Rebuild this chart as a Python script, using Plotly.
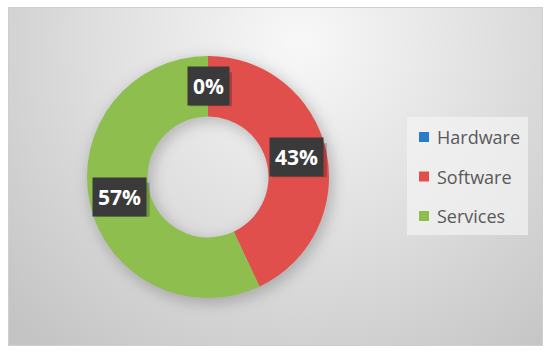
import base64, math
import plotly.graph_objects as go

categories = ["Hardware", "Software", "Services"]
values = [0, 43, 57]
colors = ["#2B7BC8", "#E04F4C", "#8DBE4E"]

W, H = 550, 356
# pie domain (paper)
dom_x = [0.1582, 0.5982]
dom_y = [0.1629, 0.8427]
hole = 0.5

svg = f'''<svg xmlns="http://www.w3.org/2000/svg" width="{W}" height="{H}" viewBox="0 0 {W} {H}">
<defs>
<radialGradient id="g" cx="300" cy="40" r="400" gradientUnits="userSpaceOnUse">
<stop offset="0" stop-color="#F8F8F8"/>
<stop offset="0.5" stop-color="#DFDFDF"/>
<stop offset="1" stop-color="#C4C4C4"/>
</radialGradient>
<filter id="b" x="-50%" y="-50%" width="200%" height="200%"><feGaussianBlur stdDeviation="7"/></filter>
</defs>
<rect width="{W}" height="{H}" fill="#FFFFFF"/>
<rect x="8.5" y="7.5" width="534" height="338" fill="url(#g)" stroke="#CFCFCF"/>
<circle cx="211" cy="181" r="91" fill="none" stroke="#000" stroke-opacity="0.2" stroke-width="64" filter="url(#b)"/>
</svg>'''
src = "data:image/svg+xml;base64," + base64.b64encode(svg.encode()).decode()

fig = go.Figure()
fig.add_trace(go.Pie(
    labels=categories, values=values, hole=hole, sort=False,
    direction="clockwise", rotation=0, textinfo="none",
    marker=dict(colors=colors, line=dict(width=0)),
    domain=dict(x=dom_x, y=dom_y), showlegend=False, hoverinfo="label+percent",
))

shapes = []
annotations = []

# data labels computed from values
total = sum(values)
cx_px = (dom_x[0] + dom_x[1]) / 2 * W
cy_px = (1 - (dom_y[0] + dom_y[1]) / 2) * H
r_out = min((dom_x[1] - dom_x[0]) * W, (dom_y[1] - dom_y[0]) * H) / 2
r_mid = r_out * (1 + hole) / 2
cum = 0
for v in values:
    frac = v / total
    mid = (cum + frac / 2) * 2 * math.pi
    cum += frac
    px = cx_px + r_mid * math.sin(mid)
    py = cy_px - r_mid * math.cos(mid)
    label = f"{round(frac * 100)}%"
    bw = 12.5 * len(label) + 17
    bh = 34
    xp, yp = px / W, 1 - py / H
    shapes.append(dict(type="rect", xref="paper", yref="paper", xsizemode="pixel", ysizemode="pixel",
                       xanchor=xp, yanchor=yp, x0=-bw / 2 + 3, x1=bw / 2 + 3, y0=-bh / 2 - 3, y1=bh / 2 - 3,
                       fillcolor="rgba(0,0,0,0.22)", line=dict(width=0), layer="above"))
    annotations.append(dict(x=xp, y=yp, xref="paper", yref="paper", showarrow=False,
                            text=f"<b>{label}</b>", borderpad=5, xanchor="center", yanchor="middle",
                            font=dict(family="Open Sans", size=21, color="#FFFFFF"), bgcolor="#3A3A3A"))

# legend (background box, square keys, labels)
lg_x0, lg_x1, lg_y0, lg_y1 = 407, 528, 117, 235
shapes.append(dict(type="rect", xref="paper", yref="paper",
                   x0=lg_x0 / W, x1=lg_x1 / W, y0=1 - lg_y1 / H, y1=1 - lg_y0 / H,
                   fillcolor="rgba(244,244,244,0.7)", line=dict(width=0), layer="above"))
for i, (c, col) in enumerate(zip(categories, colors)):
    yc = 137 + i * 39.5
    shapes.append(dict(type="rect", xref="paper", yref="paper",
                       x0=419 / W, x1=429 / W, y0=1 - (yc + 5) / H, y1=1 - (yc - 5) / H,
                       fillcolor=col, line=dict(width=0), layer="above"))
    annotations.append(dict(x=435 / W, y=1 - yc / H, xref="paper", yref="paper", showarrow=False,
                            text=c, xanchor="left", yanchor="middle",
                            font=dict(family="Open Sans", size=18, color="#595959")))

fig.update_layout(
    width=W, height=H, margin=dict(l=0, r=0, t=0, b=0),
    paper_bgcolor="#FFFFFF", plot_bgcolor="rgba(0,0,0,0)",
    images=[dict(source=src, xref="paper", yref="paper", x=0, y=1, sizex=1, sizey=1,
                 xanchor="left", yanchor="top", sizing="stretch", layer="below")],
    shapes=shapes,
    annotations=annotations,
    showlegend=False,
)
fig.write_html("out.html", config={"displayModeBar": False},
               post_script="document.body.style.margin='0';")
